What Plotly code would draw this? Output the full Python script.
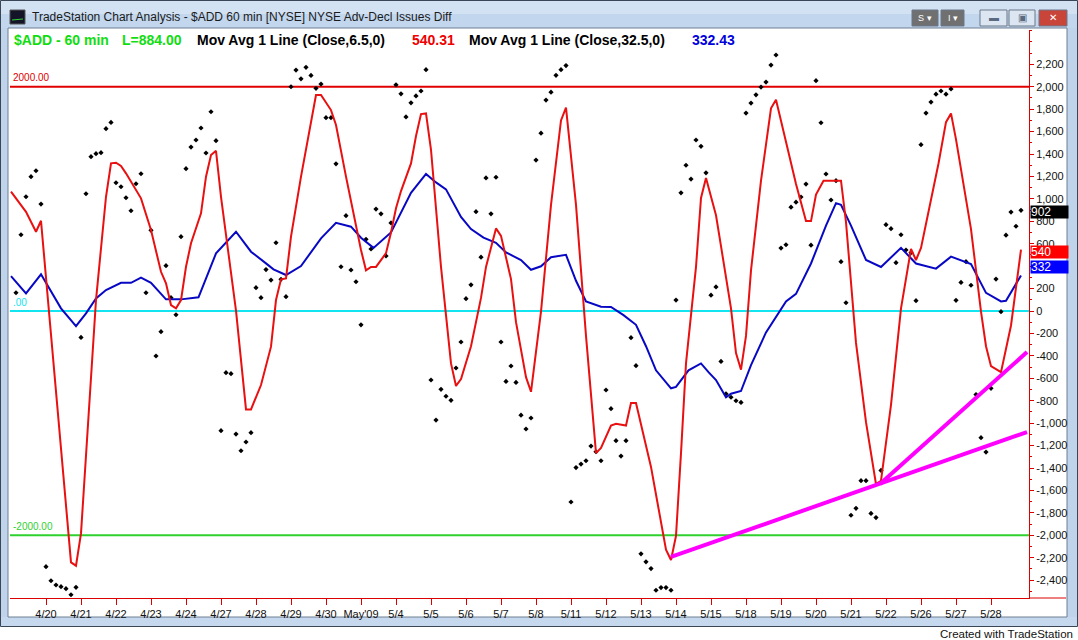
import plotly.graph_objects as go

W, H = 1078, 640


def px(x):
    return x / W


def py(y):
    return 1 - y / H


# ---------------- data ----------------
# hourly closes of $ADD, one per bar (7 bars per session), first bar = 4/17 11:30
close_values = [
    163, 680, 1019, 1198, 1251, 954,                       # 4/17
    -2280, -2405, -2443, -2458, -2476, -2530, -2464,       # 4/20
    -235, 1046, 1376, 1403, 1412, 1626, 1682,              # 4/21
    1144, 1108, 1010, 894, 1135, 1224, 163,                # 4/22
    720, -401, -184, 404, 119, -33, 663,                   # 4/23
    1269, 1462, 1525, 1632, 1409, 1777, 1519,              # 4/24
    -1067, -550, -559, -1097, -1246, -1168, -1085,         # 4/27
    208, 119, 370, 276, 609, 283, 128,                     # 4/28
    2000, 2149, 2071, 2173, 2101, 1986, 2024,              # 4/29
    1724, 1724, 1313, 395, 850, 366, 261,                  # 4/30
    -123, 639, 553, 909, 867, 491, 786,                    # 5/1
    2017, 1937, 1731, 1857, 1918, 1962, 2152,              # 5/4
    -615, -972, -698, -760, -796, -508, -276,              # 5/5
    110, 234, 886, 480, 1187, 867, 1193,                   # 5/6
    -276, -628, -490, -637, -929, -1052, -954,             # 5/7
    1346, 1586, 1881, 1952, 2102, 2152, 2189,              # 5/8
    -1703, -1396, -1365, -1335, -1204, -1255, -1335,       # 5/11
    -704, -871, -1156, -1293, -1156, -238, -487,           # 5/12
    -2165, -2236, -2297, -2490, -2466, -2466, -2490,       # 5/13
    98, 1054, 1300, 1177, 1525, 1469, 1232,                # 5/14
    141, 215, -449, -738, -769, -800, -815,                # 5/15
    1765, 1854, 1928, 1997, 2042, 2193, 2283,              # 5/18
    561, 591, 926, 971, 1017, 1132, 587,                   # 5/19
    2054, 1679, 1222, 990, 1162, 440, 74,                  # 5/20
    -1821, -1759, -1513, -1513, -1805, -1842, -1421,       # 5/21
    770, 734, 431, 680, 544, 520, 92,                      # 5/22
    1483, 1765, 1863, 1934, 1962, 1934, 1980,              # 5/26
    95, 255, 440, 230, -745, -1129, -1258,                 # 5/27
    -689, 285, -6, 676, 882, 756, 898,                     # 5/28
]

# Mov Avg (Close, 6.5) - red line, read at its vertices (bar index, value)
red_x = [-1, 2, 4, 5, 11, 12, 13, 16, 18, 19, 20, 21, 22, 24, 25, 27, 29, 30, 31, 32,
         33, 34, 35, 37, 38, 39, 40, 41, 44, 46, 47, 49, 51, 52, 53, 54, 55, 57, 60, 61,
         63, 64, 66, 69, 70, 71, 72, 74, 75, 76, 77, 79, 80, 81, 82, 83, 85, 87, 88, 89,
         91, 93, 94, 96, 97, 99, 100, 102, 103, 105, 107, 109, 110, 112, 114, 116, 117, 119, 120, 122,
         123, 124, 126, 127, 128, 129.5, 130, 131, 132, 133, 134, 136, 137, 138, 140, 141, 143, 144, 145, 146,
         147, 149, 151, 152, 154, 156, 158, 159, 160, 161.5, 165, 166, 168, 170, 172, 173, 175, 177, 179, 180,
         181, 182.5, 184.5, 186, 187, 188, 190, 191, 193, 194, 195, 197, 199, 200, 201]
red_y = [1064, 885, 707, 805, -2241, -2271, -1983, 98, 1019, 1317, 1322, 1293, 1228, 1079, 1005, 722, 350, 247, 53, 24,
         98, 395, 604, 871, 1198, 1391, 1429, 1019, 3, -877, -877, -660, -318, 98, 283, 291, 663, 1198, 1926, 1926,
         1792, 1659, 1198, 544, 363, 393, 393, 516, 701, 916, 1070, 1316, 1561, 1756, 1762, 1438, 393, -467, -668, -606,
         -314, 117, 393, 737, 670, 285, -99, -590, -720, -6, 947, 1700, 1814, 947, -222, -1267, -1221, -1021, -1006, -1021,
         -821, -821, -1205, -1390, -1636, -2005, -2128, -2220, -2005, -1267, -467, 393, 1008, 1187, 854, 578, 24, -375, -523, -222,
         363, 1162, 1808, 1884, 1500, 1132, 802, 802, 1039, 1162, 1162, 793, -284, -991, -1544, -1513, -836, 24, 553, 455,
         563, 885, 1316, 1684, 1762, 1531, 1008, 731, -6, -314, -492, -545, -129, 209, 547]

# Mov Avg (Close, 32.5) - blue line, read at its vertices
blue_x = [-1, 2, 5, 9, 12, 14, 16, 18, 21, 23, 25, 27, 30, 33, 36.5, 40, 44, 47, 50, 51.5,
          54, 57, 61, 64, 67, 69, 71.5, 73.5, 75, 79, 82, 84, 86, 89, 91, 93.5, 96, 98, 101, 103,
          105, 107, 110, 112, 114, 117, 119, 121.5, 124, 126, 128, 131, 132, 134.5, 137, 138.5, 140, 142, 143, 145,
          147, 150, 153, 154, 156, 159, 162, 164, 165, 167, 170, 173, 177, 180, 184, 187, 191, 194, 197, 198, 201]
blue_y = [312, 158, 327, 24, -134, -21, 113, 187, 252, 252, 297, 252, 104, 104, 122, 514, 707, 529, 425, 372,
          321, 401, 648, 787, 752, 654, 563, 639, 701, 1054, 1223, 1147, 1085, 839, 731, 654, 608, 522, 455, 368,
          399, 480, 501, 270, 86, 39, 37, -37, -123, -314, -529, -689, -677, -529, -467, -545, -615, -769, -738, -713,
          -483, -191, 24, 86, 153, 424, 762, 962, 947, 762, 455, 393, 563, 424, 378, 485, 418, 162, 86, 92, 317]

# magenta trend lines
trend_a_x = [131, 202.2]
trend_a_y = [-2193, -1079]
trend_b_x = [172.8, 202.2]
trend_b_y = [-1543, -366]

day_labels = ["4/20", "4/21", "4/22", "4/23", "4/24", "4/27", "4/28", "4/29", "4/30", "May'09",
              "5/4", "5/5", "5/6", "5/7", "5/8", "5/11", "5/12", "5/13", "5/14", "5/15",
              "5/18", "5/19", "5/20", "5/21", "5/22", "5/26", "5/27", "5/28"]
bars_per_day = 7
first_labeled_bar = 6

y_tick_values = list(range(-2400, 2201, 200))
y_tick_text = [f"{v:,}" for v in y_tick_values]

levels = [2000, 0, -2000]
level_labels = ["2000.00", ".00", "-2000.00"]
level_colors = ["#e00000", "#12e4f0", "#2fd12f"]

last_close_label = "902"
red_last_label = "540"
blue_last_label = "332"

# ---------------- figure ----------------
XDOM = [px(10), px(1029)]
YDOM = [py(598), py(30)]
XR = [-1.2, 202.6]
YR = [-2559, 2506]
RED = "#e81010"
BLUE = "#0808c4"
AXRED = "#dd0000"
FONT = "Liberation Sans, Arial, sans-serif"

fig = go.Figure()

fig.add_trace(go.Scatter(x=list(range(len(close_values))), y=close_values, mode="markers",
                         marker=dict(symbol="diamond", size=4, color="black", line=dict(width=0)),
                         hoverinfo="skip"))
fig.add_trace(go.Scatter(x=blue_x, y=blue_y, mode="lines", line=dict(color=BLUE, width=2),
                         hoverinfo="skip"))
fig.add_trace(go.Scatter(x=red_x, y=red_y, mode="lines", line=dict(color=RED, width=2),
                         hoverinfo="skip"))
fig.add_trace(go.Scatter(x=trend_a_x, y=trend_a_y, mode="lines", line=dict(color="#ff00ff", width=4),
                         hoverinfo="skip"))
fig.add_trace(go.Scatter(x=trend_b_x, y=trend_b_y, mode="lines", line=dict(color="#ff00ff", width=4),
                         hoverinfo="skip"))

shapes = []
annotations = []

# level lines
for lv, lab, col in zip(levels, level_labels, level_colors):
    shapes.append(dict(type="line", xref="paper", yref="y", x0=XDOM[0], x1=XDOM[1], y0=lv, y1=lv,
                       line=dict(color=col, width=2), layer="below"))
    annotations.append(dict(xref="paper", yref="y", x=px(11), y=lv, yshift=9, text=lab,
                            showarrow=False, xanchor="left", yanchor="middle",
                            font=dict(family=FONT, size=10, color=col)))

# ---- window chrome ----
shapes.append(dict(type="rect", xref="paper", yref="paper", x0=0, x1=1, y0=py(14), y1=1,
                   fillcolor="#d3e2f3", line=dict(width=0), layer="below"))
shapes.append(dict(type="rect", xref="paper", yref="paper", x0=0, x1=1, y0=py(28), y1=py(14),
                   fillcolor="#c2d6ed", line=dict(width=0), layer="below"))
shapes.append(dict(type="rect", xref="paper", yref="paper", x0=0, x1=px(8), y0=py(626), y1=py(28),
                   fillcolor="#bfd3ea", line=dict(width=0), layer="below"))
shapes.append(dict(type="rect", xref="paper", yref="paper", x0=px(1067), x1=1, y0=py(626), y1=py(28),
                   fillcolor="#bfd3ea", line=dict(width=0), layer="below"))
shapes.append(dict(type="rect", xref="paper", yref="paper", x0=0, x1=1, y0=py(626), y1=py(617),
                   fillcolor="#c5d8ee", line=dict(width=0), layer="below"))
shapes.append(dict(type="rect", xref="paper", yref="paper", x0=px(8), x1=px(1067), y0=py(617), y1=py(28),
                   fillcolor="rgba(0,0,0,0)", line=dict(color="#6f7f93", width=1), layer="below"))
shapes.append(dict(type="rect", xref="paper", yref="paper", x0=px(0.5), x1=px(1077.5), y0=py(626.5), y1=py(0.5),
                   fillcolor="rgba(0,0,0,0)", line=dict(color="#3a4656", width=1), layer="below"))
shapes.append(dict(type="rect", xref="paper", yref="paper", x0=px(10), x1=px(25), y0=py(24), y1=py(10),
                   fillcolor="#141428", line=dict(color="#555", width=1), layer="above"))
shapes.append(dict(type="line", xref="paper", yref="paper", x0=px(12), x1=px(23), y0=py(20), y1=py(19),
                   line=dict(color="#33cc33", width=1), layer="above"))
for x0, x1, fill, lab in [(912, 938, "#707070", "S ▾"), (941, 964, "#707070", "I ▾"),
                          (980, 1007, "#dce6f2", "▬"), (1009, 1035, "#dce6f2", "▣"),
                          (1039, 1067, "#c9453a", "✕")]:
    shapes.append(dict(type="rect", xref="paper", yref="paper", x0=px(x0), x1=px(x1), y0=py(26), y1=py(10),
                       fillcolor=fill, line=dict(color="#6a7789", width=1), layer="above"))
    annotations.append(dict(xref="paper", yref="paper", x=px((x0 + x1) / 2), y=py(18), text=lab,
                            showarrow=False, xanchor="center", yanchor="middle",
                            font=dict(family=FONT, size=9 if lab in ("S ▾", "I ▾") else 10,
                                      color="white" if fill != "#dce6f2" else "#5a6a80")))

shapes.append(dict(type="line", xref="paper", yref="paper", x0=XDOM[1], x1=px(1066), y0=py(598), y1=py(598),
                   line=dict(color=AXRED, width=1), layer="above"))

annotations.append(dict(xref="paper", yref="paper", x=px(30), y=py(17),
                        text="TradeStation Chart Analysis - $ADD 60 min [NYSE] NYSE Adv-Decl Issues Diff",
                        showarrow=False, xanchor="left", yanchor="middle",
                        font=dict(family=FONT, size=12, color="#1b1b1b")))

legend_parts = [
    (12, "$ADD - 60 min", "#11dd11"),
    (120, "L=884.00", "#11dd11"),
    (195, "Mov Avg 1 Line (Close,6.5,0)", "#000000"),
    (410, "540.31", "#ee0000"),
    (467, "Mov Avg 1 Line (Close,32.5,0)", "#000000"),
    (690, "332.43", "#0000dd"),
]
for x0, txt, col in legend_parts:
    annotations.append(dict(xref="paper", yref="paper", x=px(x0), y=py(40), text="<b>" + txt + "</b>",
                            showarrow=False, xanchor="left", yanchor="middle",
                            font=dict(family=FONT, size=14, color=col)))

for lab, yc, bg in [(last_close_label, 212, "#000000"), (red_last_label, 252, "#ff0000"),
                    (blue_last_label, 266.5, "#0000ff")]:
    annotations.append(dict(xref="paper", yref="paper", x=px(1030), y=py(yc), text=lab,
                            showarrow=False, xanchor="left", yanchor="middle", align="left",
                            width=37, height=12, bgcolor=bg, borderpad=0,
                            font=dict(family=FONT, size=12, color="white")))

annotations.append(dict(xref="paper", yref="paper", x=px(1075), y=py(634),
                        text="Created with TradeStation", showarrow=False,
                        xanchor="right", yanchor="middle",
                        font=dict(family=FONT, size=11.5, color="#111111")))

fig.update_layout(
    width=W, height=H, autosize=False,
    margin=dict(l=0, r=0, t=0, b=0),
    paper_bgcolor="white", plot_bgcolor="white",
    showlegend=False,
    shapes=shapes, annotations=annotations,
    xaxis=dict(domain=XDOM, range=XR,
               tickmode="array",
               tickvals=[first_labeled_bar + bars_per_day * k for k in range(len(day_labels))],
               ticktext=day_labels,
               ticks="outside", ticklen=6, tickcolor=AXRED,
               showline=True, linecolor=AXRED, linewidth=1,
               showgrid=False, zeroline=False,
               tickfont=dict(family=FONT, size=11, color="#111")),
    yaxis=dict(domain=YDOM, range=YR, side="right", anchor="x",
               tickmode="array", tickvals=y_tick_values, ticktext=y_tick_text,
               ticks="outside", ticklen=4, tickcolor=AXRED,
               minor=dict(tickmode="linear", tick0=0, dtick=100, ticks="outside", ticklen=2, tickcolor=AXRED),
               showline=True, linecolor=AXRED, linewidth=1,
               showgrid=False, zeroline=False,
               tickfont=dict(family=FONT, size=11, color="#111")),
)

fig.write_html("out.html")
